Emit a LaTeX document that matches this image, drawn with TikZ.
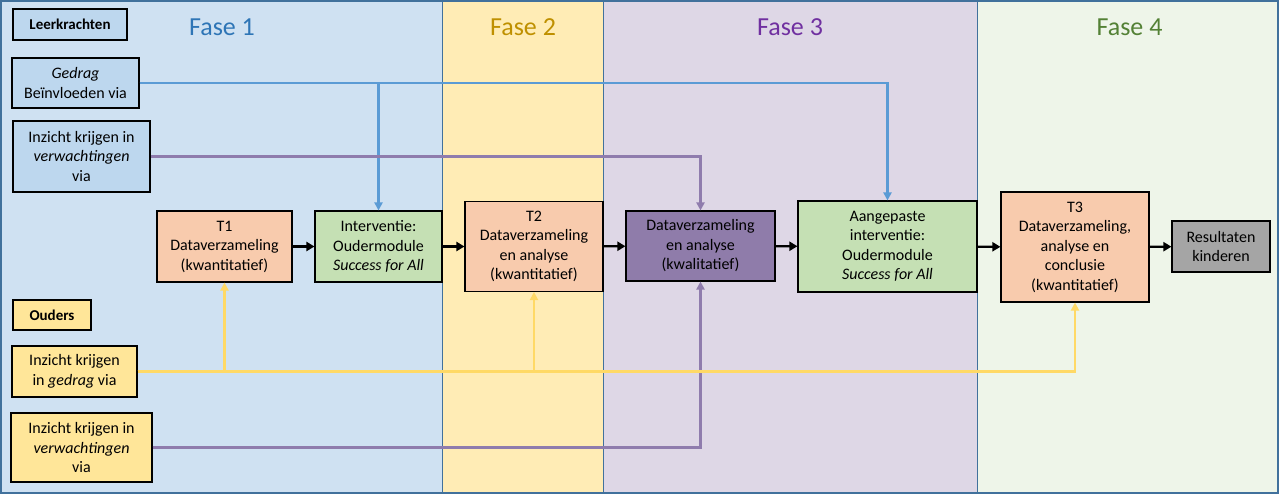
\documentclass[tikz,border=0pt]{standalone}
\usepackage{fontspec}
\setmainfont{Carlito}
\usetikzlibrary{arrows.meta}
\definecolor{FaseAClr}{RGB}{207,225,242}
\definecolor{FaseBClr}{RGB}{255,236,181}
\definecolor{FaseCClr}{RGB}{222,215,230}
\definecolor{FaseDClr}{RGB}{238,245,233}
\definecolor{FrameClr}{RGB}{65,113,156}
\definecolor{TitleAClr}{RGB}{46,117,182}
\definecolor{TitleBClr}{RGB}{191,144,0}
\definecolor{TitleCClr}{RGB}{112,48,160}
\definecolor{TitleDClr}{RGB}{83,129,53}
\definecolor{TeacherClr}{RGB}{189,215,238}
\definecolor{ParentClr}{RGB}{255,230,153}
\definecolor{MeasureClr}{RGB}{248,203,173}
\definecolor{ModuleClr}{RGB}{197,224,180}
\definecolor{QualClr}{RGB}{143,124,170}
\definecolor{ResultClr}{RGB}{165,165,165}
\definecolor{BlueLineClr}{RGB}{91,155,213}
\definecolor{PurpleLineClr}{RGB}{143,124,173}
\definecolor{YellowLineClr}{RGB}{255,217,102}

\begin{document}
\begin{tikzpicture}[x=1pt,y=-1pt,
  box/.style={draw=black,line width=1.1pt,align=center,inner sep=1pt,
    font=\fontsize{16}{19.5}\selectfont},
  tag/.style={box,font=\fontsize{15}{18}\selectfont\bfseries},
  fase/.style={anchor=base,font=\fontsize{26}{30}\selectfont},
  flow/.style={line width=2.2pt,-{Triangle[length=8pt,width=9pt]}},
  link/.style={line width=2.2pt,-{Triangle[length=8pt,width=8pt]}}]
\useasboundingbox (0,0) rectangle (1280,495);

\fill[FaseAClr] (1,1) rectangle (442,493);
\fill[FaseBClr] (442,1) rectangle (603,493);
\fill[FaseCClr] (603,1) rectangle (977,493);
\fill[FaseDClr] (977,1) rectangle (1278,493);
\draw[FrameClr,line width=1.3pt] (1,1) rectangle (1278,493);
\draw[FrameClr,line width=0.9pt] (442,1) -- (442,493) (603,1) -- (603,493) (977,1) -- (977,493);

\node[fase,TitleAClr] (f1) at (222,36) {Fase 1};
\node[fase,TitleBClr] (f2) at (523,36) {Fase 2};
\node[fase,TitleCClr] (f3) at (790,36) {Fase 3};
\node[fase,TitleDClr] (f4) at (1129.5,36) {Fase 4};

\node[tag,fill=TeacherClr,minimum width=114pt,minimum height=31pt] (lk) at (70,24.5) {Leerkrachten};
\node[box,fill=TeacherClr,minimum width=127pt,minimum height=50pt] (lgedrag) at (75.5,83) {\textit{Gedrag}\\Beïnvloeden via};
\node[box,fill=TeacherClr,minimum width=137pt,minimum height=71pt] (lverw) at (81.5,156.5) {Inzicht krijgen in\\\textit{verwachtingen}\\via};

\node[tag,fill=ParentClr,minimum width=78pt,minimum height=30pt] (ouders) at (52,315) {Ouders};
\node[box,fill=ParentClr,minimum width=125pt,minimum height=51pt] (ogedrag) at (74.5,371.5) {Inzicht krijgen\\in \textit{gedrag} via};
\node[box,fill=ParentClr,minimum width=141pt,minimum height=69pt] (overw) at (81.5,447.5) {Inzicht krijgen in\\\textit{verwachtingen}\\via};

\node[box,fill=MeasureClr,minimum width=135pt,minimum height=71pt] (t1) at (224.5,246.5) {T1\\Dataverzameling\\(kwantitatief)};
\node[box,fill=ModuleClr,minimum width=127pt,minimum height=71pt] (interv) at (378.5,246.5) {Interventie:\\Oudermodule\\\textit{Success for All}};
\node[box,fill=MeasureClr,minimum width=138pt,minimum height=90pt] (t2) at (534,246.5) {T2\\Dataverzameling\\en analyse\\(kwantitatief)};
\node[box,fill=QualClr,minimum width=149pt,minimum height=70pt] (kwal) at (700.5,246) {Dataverzameling\\en analyse\\(kwalitatief)};
\node[box,fill=ModuleClr,minimum width=179pt,minimum height=91pt] (aang) at (887.5,246.5) {Aangepaste\\interventie:\\Oudermodule\\\textit{Success for All}};
\node[box,fill=MeasureClr,minimum width=148pt,minimum height=110pt] (t3) at (1075,247) {T3\\Dataverzameling,\\analyse en\\conclusie\\(kwantitatief)};
\node[box,fill=ResultClr,minimum width=98pt,minimum height=51pt] (res) at (1221,246.5) {Resultaten\\kinderen};

\draw[link,BlueLineClr] (lgedrag.east) -| (interv.north);
\draw[link,BlueLineClr] (lgedrag.east) -| (aang.north);
\draw[link,PurpleLineClr] (lverw.east) -| (kwal.north);
\draw[link,PurpleLineClr] (overw.east) -| (kwal.south);
\draw[link,YellowLineClr] (ogedrag.east) -| (t1.south);
\draw[link,YellowLineClr] (ogedrag.east) -| (t2.south);
\draw[link,YellowLineClr] (ogedrag.east) -| (t3.south);

\draw[flow] (t1) -- (interv);
\draw[flow] (interv.east |- t2) -- (t2);
\draw[flow] (t2) -- (kwal);
\draw[flow] (kwal) -- (aang);
\draw[flow] (aang) -- (t3);
\draw[flow] (t3) -- (res);

\end{tikzpicture}
\end{document}
